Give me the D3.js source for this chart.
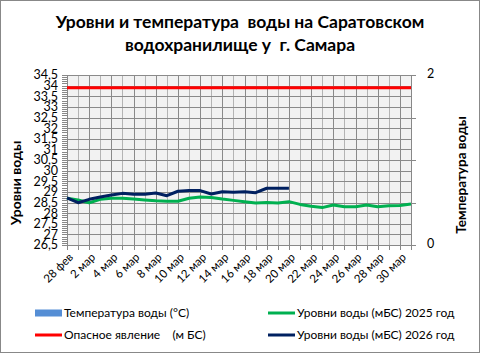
<!DOCTYPE html>
<html>
<head>
<meta charset="utf-8">
<script src="https://cdn.jsdelivr.net/npm/d3@7"></script>
<style>
  html, body { margin: 0; padding: 0; background: #fff; }
  svg { display: block; font-family: Lato, "Liberation Sans", sans-serif; }
</style>
</head>
<body>
<div id="chart"></div>
<script>
// categories: 28 фев + every day of March
var categories = ["28 фев"];
for (var dd = 1; dd <= 31; dd++) categories.push(dd + " мар");

// water level 2025 (m BS)
var level2025 = [28.70, 28.62, 28.49, 28.65, 28.70, 28.70, 28.66, 28.62, 28.58, 28.56,
                 28.56, 28.70, 28.76, 28.74, 28.66, 28.60, 28.54, 28.48, 28.50, 28.48,
                 28.54, 28.41, 28.32, 28.26, 28.38, 28.30, 28.30, 28.38, 28.30, 28.35,
                 28.36, 28.43];
// water level 2026 (m BS), data up to 20 мар
var level2026 = [28.72, 28.49, 28.65, 28.76, 28.85, 28.93, 28.89, 28.89, 28.95, 28.82,
                 29.03, 29.06, 29.06, 28.90, 29.01, 28.98, 29.01, 28.96, 29.17, 29.17,
                 29.17];
// dangerous level
var dangerLevel = categories.map(function() { return 33.9; });
// water temperature – no values yet
var temperature = [];

var leftTicks = [26.5, 27, 27.5, 28, 28.5, 29, 29.5, 30, 30.5, 31, 31.5, 32, 32.5, 33, 33.5, 34, 34.5];
var rightTicks = [0, 2];

var legendItems = [
  { name: "Температура воды (°C)", color: "#558ed5", type: "bar" },
  { name: "Уровни воды (мБС) 2025 год", color: "#00b050", type: "line" },
  { name: "Опасное явление    (м БС)", color: "#ff0000", type: "line" },
  { name: "Уровни воды (мБС) 2026 год", color: "#002060", type: "line" }
];

// keep repeated spaces visible in svg text
function keepSpaces(s) {
  return s.replace(/ {2,}/g, function(m) { return " " + m.slice(1).replace(/ /g, "\u00a0"); });
}

var w = 481, h = 354;
var plotL = 67, plotR = 411, plotT = 75, plotB = 245;

var svg = d3.select("#chart").append("svg")
  .attr("width", w)
  .attr("height", h);

svg.append("rect")
  .attr("x", 0.5).attr("y", 0.5)
  .attr("width", w - 2).attr("height", h - 2)
  .attr("fill", "#fff")
  .attr("stroke", "#888");

var x = d3.scalePoint().domain(categories).range([plotL, plotR]);
var y = d3.scaleLinear().domain([26.5, 34.5]).range([plotB, plotT]);
var y2 = d3.scaleLinear().domain([0, 2]).range([plotB, plotT]);

// plot background
svg.append("rect")
  .attr("x", plotL).attr("y", plotT)
  .attr("width", plotR - plotL).attr("height", plotB - plotT)
  .attr("fill", "#f2f2f2");

// vertical grid
svg.append("g")
  .selectAll("line")
  .data(categories)
  .enter()
  .append("line")
  .attr("x1", function(d) { return Math.round(x(d)) + 0.5; })
  .attr("x2", function(d) { return Math.round(x(d)) + 0.5; })
  .attr("y1", plotT).attr("y2", plotB)
  .attr("stroke", function(d, i) { return i % 2 === 0 ? "#8a8a8a" : "#b4b4b4"; })
  .attr("stroke-width", 1);

// horizontal grid
svg.append("g")
  .selectAll("line")
  .data(leftTicks)
  .enter()
  .append("line")
  .attr("x1", plotL).attr("x2", plotR)
  .attr("y1", function(d) { return Math.round(y(d)) + 0.5; })
  .attr("y2", function(d) { return Math.round(y(d)) + 0.5; })
  .attr("stroke", "#8a8a8a");

// left axis
var minorTicks = d3.range(265, 346).map(function(v) { return v / 10; });
var leftAxis = svg.append("g").attr("transform", "translate(" + plotL + ",0)");
leftAxis.selectAll("line.minor")
  .data(minorTicks)
  .enter()
  .append("line")
  .attr("x1", -5).attr("x2", 0)
  .attr("y1", function(d) { return Math.round(y(d)) + 0.5; })
  .attr("y2", function(d) { return Math.round(y(d)) + 0.5; })
  .attr("stroke", "#888");
leftAxis.append("line")
  .attr("x1", 0.5).attr("x2", 0.5)
  .attr("y1", plotT).attr("y2", plotB)
  .attr("stroke", "#888");
leftAxis.selectAll("text")
  .data(leftTicks)
  .enter()
  .append("text")
  .attr("x", -9)
  .attr("y", function(d) { return y(d); })
  .attr("dy", "0.35em")
  .attr("text-anchor", "end")
  .style("font-size", "12.5px")
  .attr("fill", "#000")
  .text(function(d) { return String(d).replace(".", ","); });

// right axis
var rightAxis = svg.append("g").attr("transform", "translate(" + plotR + ",0)");
rightAxis.append("line")
  .attr("x1", 0.5).attr("x2", 0.5)
  .attr("y1", plotT).attr("y2", plotB)
  .attr("stroke", "#888");
rightAxis.selectAll("line.tick")
  .data([0, 0.5, 1, 1.5, 2])
  .enter()
  .append("line")
  .attr("x1", 0).attr("x2", 5)
  .attr("y1", function(d) { return Math.round(y2(d)) + 0.5; })
  .attr("y2", function(d) { return Math.round(y2(d)) + 0.5; })
  .attr("stroke", "#888");
rightAxis.selectAll("text")
  .data(rightTicks)
  .enter()
  .append("text")
  .attr("x", 16)
  .attr("y", function(d) { return y2(d) - 1; })
  .attr("dy", "0.35em")
  .style("font-size", "12.5px")
  .text(function(d) { return d; });

// bottom axis
var bottomAxis = svg.append("g");
bottomAxis.append("line")
  .attr("x1", plotL).attr("x2", plotR)
  .attr("y1", plotB + 0.5).attr("y2", plotB + 0.5)
  .attr("stroke", "#888");
bottomAxis.selectAll("line.tick")
  .data(categories)
  .enter()
  .append("line")
  .attr("x1", function(d) { return Math.round(x(d)) + 0.5; })
  .attr("x2", function(d) { return Math.round(x(d)) + 0.5; })
  .attr("y1", plotB).attr("y2", plotB + 5)
  .attr("stroke", "#888");
bottomAxis.selectAll("text")
  .data(categories.filter(function(d, i) { return i % 2 === 0; }))
  .enter()
  .append("text")
  .attr("transform", function(d) {
    return "translate(" + (x(d) + 4) + "," + (plotB + 10) + ")rotate(-45)";
  })
  .attr("text-anchor", "end")
  .attr("dy", "0.35em")
  .style("font-size", "11.5px")
  .text(function(d) { return d; });

// lines
var line = d3.line()
  .x(function(d, i) { return x(categories[i]); })
  .y(function(d) { return y(d); });

svg.append("path")
  .datum(dangerLevel)
  .attr("d", line)
  .attr("fill", "none")
  .attr("stroke", "#ff0000")
  .attr("stroke-width", 3);

svg.append("path")
  .datum(level2025)
  .attr("d", line)
  .attr("fill", "none")
  .attr("stroke", "#00b050")
  .attr("stroke-width", 3)
  .attr("stroke-linejoin", "round");

svg.append("path")
  .datum(level2026)
  .attr("d", line)
  .attr("fill", "none")
  .attr("stroke", "#002060")
  .attr("stroke-width", 3)
  .attr("stroke-linejoin", "round");

// temperature bars (no data)
svg.append("g")
  .selectAll("rect")
  .data(temperature)
  .enter()
  .append("rect")
  .attr("x", function(d, i) { return x(categories[i]) - 3; })
  .attr("width", 6)
  .attr("y", function(d) { return y2(d); })
  .attr("height", function(d) { return plotB - y2(d); })
  .attr("fill", "#558ed5");

// titles
var title = svg.append("text")
  .attr("text-anchor", "middle")
  .style("font-size", "17.5px")
  .style("font-weight", "bold");
title.append("tspan").attr("x", 240).attr("y", 28).text(keepSpaces("Уровни и температура  воды на Саратовском"));
title.append("tspan").attr("x", 240).attr("y", 51).text(keepSpaces("водохранилище у  г. Самара"));

svg.append("text")
  .attr("transform", "translate(21,183)rotate(-90)")
  .attr("text-anchor", "middle")
  .style("font-size", "14px")
  .style("font-weight", "bold")
  .text("Уровни воды");

svg.append("text")
  .attr("transform", "translate(466,175)rotate(-90)")
  .attr("text-anchor", "middle")
  .style("font-size", "13.5px")
  .style("font-weight", "bold")
  .text("Температура воды");

// legend
var legend = svg.append("g")
  .selectAll("g")
  .data(legendItems)
  .enter()
  .append("g")
  .attr("transform", function(d, i) {
    return "translate(" + (i % 2 === 0 ? 35 : 268) + "," + (i < 2 ? 313 : 335) + ")";
  });
legend.filter(function(d) { return d.type === "bar"; })
  .append("rect")
  .attr("x", 0).attr("y", -3.5)
  .attr("width", 27).attr("height", 7)
  .attr("fill", function(d) { return d.color; });
legend.filter(function(d) { return d.type === "line"; })
  .append("line")
  .attr("x1", 0).attr("x2", 27)
  .attr("y1", 0).attr("y2", 0)
  .attr("stroke", function(d) { return d.color; })
  .attr("stroke-width", 3);
legend.append("text")
  .attr("x", 29)
  .attr("dy", "0.35em")
  .style("font-size", "12px")
  .text(function(d) { return keepSpaces(d.name); });
</script>
</body>
</html>
